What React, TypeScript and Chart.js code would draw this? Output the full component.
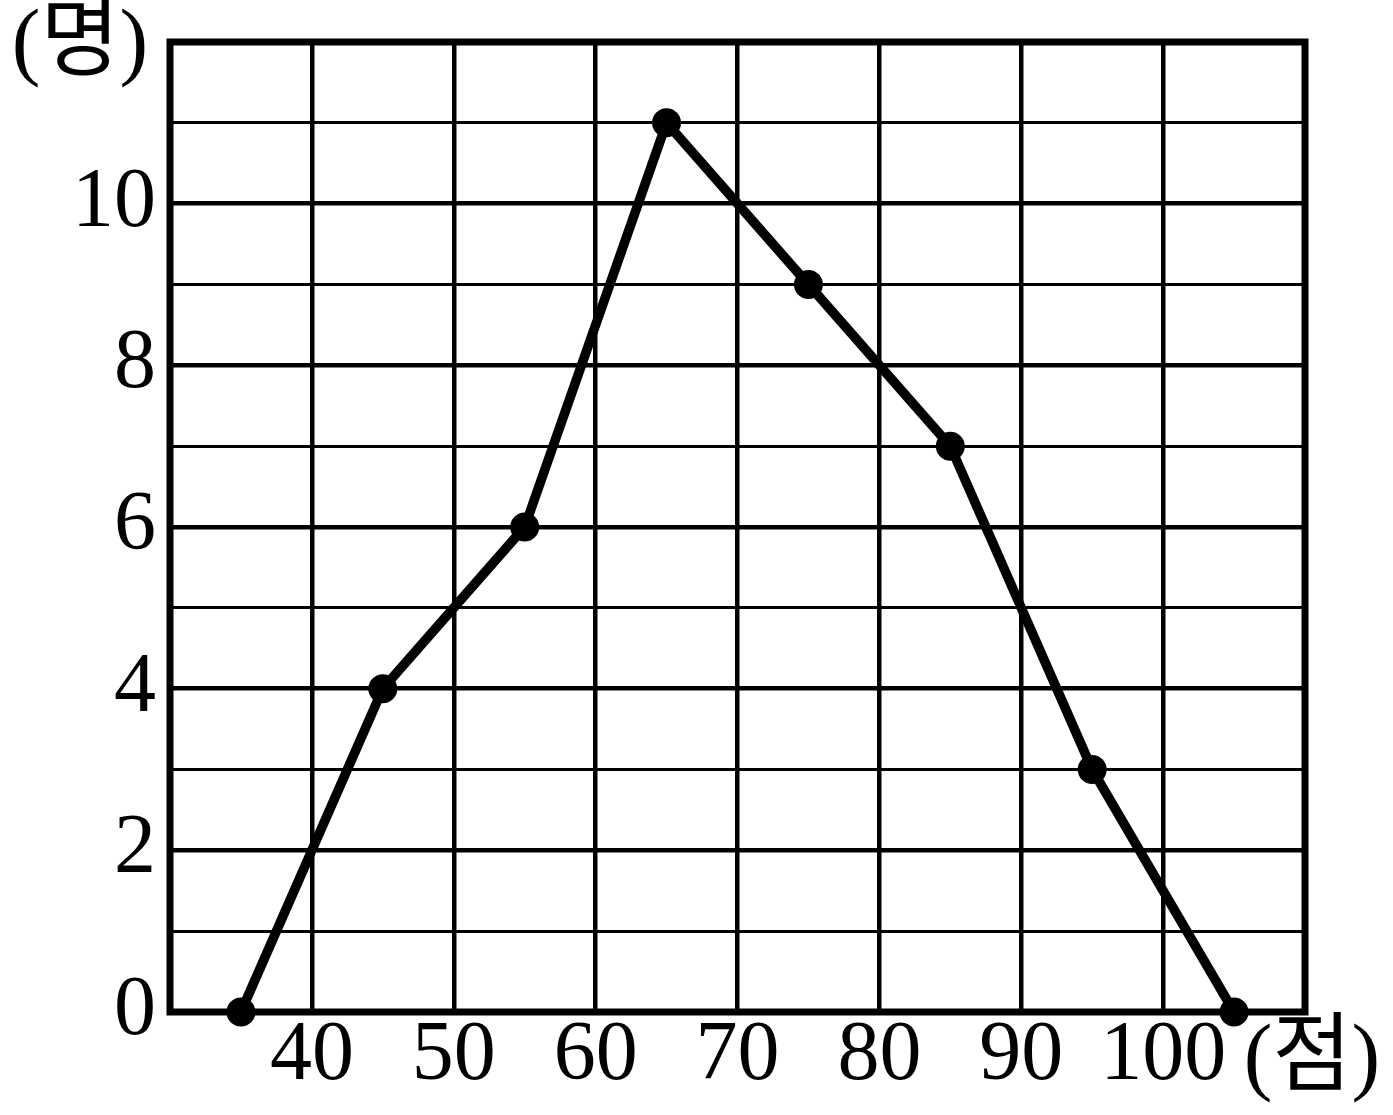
import React, { useEffect, useRef } from 'react';
import { Chart, registerables } from 'chart.js';

Chart.register(...registerables);

const scores = [35, 45, 55, 65, 75, 85, 95, 105];
const counts = [0, 4, 6, 11, 9, 7, 3, 0];
const xTickLabels = [40, 50, 60, 70, 80, 90, 100];
const yTickLabels = [0, 2, 4, 6, 8, 10];
const yUnit = '(명)';
const xUnit = '(점)';

const FONT_FAMILY = '"Liberation Serif", "Noto Sans CJK KR", serif';

const framePlugin = {
  id: 'frameAndUnits',
  beforeDatasetsDraw(chart: any) {
    const { ctx, chartArea } = chart;
    ctx.save();
    ctx.strokeStyle = '#000';
    ctx.lineWidth = 7;
    ctx.strokeRect(chartArea.left, chartArea.top, chartArea.right - chartArea.left, chartArea.bottom - chartArea.top);
    ctx.restore();
  },
  afterDraw(chart: any) {
    const { ctx } = chart;
    ctx.save();
    ctx.fillStyle = '#000';
    ctx.font = '86px ' + FONT_FAMILY;
    ctx.textBaseline = 'alphabetic';
    ctx.textAlign = 'center';
    ctx.fillText(yUnit, 80, 69);
    ctx.fillText(xUnit, 1312, 1084);
    ctx.restore();
  },
};

export default function App() {
  const ref = useRef<HTMLCanvasElement | null>(null);

  useEffect(() => {
    if (!ref.current) return;
    const chart = new Chart(ref.current, {
      type: 'line',
      data: {
        datasets: [
          {
            data: scores.map((s, i) => ({ x: s, y: counts[i] })),
            borderColor: '#000',
            backgroundColor: '#000',
            borderWidth: 9.5,
            pointRadius: 14.5,
            pointBorderWidth: 0,
            pointBackgroundColor: '#000',
            tension: 0,
            clip: false as any,
          },
        ],
      },
      options: {
        animation: false,
        responsive: false,
        devicePixelRatio: 1,
        layout: { padding: { top: 42, right: 88, left: 0, bottom: 0 } },
        plugins: { legend: { display: false }, tooltip: { enabled: false } },
        scales: {
          x: {
            type: 'linear',
            min: 30,
            max: 110,
            afterFit: (scale: any) => {
              scale.height = 103;
              scale.paddingLeft = 0;
              scale.paddingRight = 0;
            },
            afterBuildTicks: (scale: any) => {
              const vals = [30, ...xTickLabels, 110];
              scale.ticks = vals.map((v) => ({ value: v }));
            },
            border: { display: false },
            grid: { color: '#000', lineWidth: 4.5, drawTicks: false },
            ticks: {
              autoSkip: false,
              maxRotation: 0,
              padding: -5,
              color: '#000',
              font: { family: FONT_FAMILY, size: 84 },
              callback: (v: any) => (xTickLabels.includes(Number(v)) ? String(v) : ''),
            },
          },
          y: {
            type: 'linear',
            min: 0,
            max: 12,
            afterFit: (scale: any) => {
              scale.width = 170;
              scale.paddingTop = 0;
              scale.paddingBottom = 0;
            },
            afterBuildTicks: (scale: any) => {
              const vals: number[] = [];
              for (let v = 0; v <= 12; v++) vals.push(v);
              scale.ticks = vals.map((v) => ({ value: v }));
            },
            border: { display: false },
            grid: {
              color: '#000',
              drawTicks: false,
              lineWidth: (c: any) => (c.tick && c.tick.value % 2 === 0 ? 4.5 : 3),
            },
            ticks: {
              autoSkip: false,
              padding: 14,
              color: '#000',
              font: { family: FONT_FAMILY, size: 84 },
              callback: (v: any) => (yTickLabels.includes(Number(v)) ? String(v) : ''),
            },
          },
        },
      },
      plugins: [framePlugin],
    });
    return () => chart.destroy();
  }, []);

  return (
    <div style={{ position: 'fixed', left: 0, top: 0, width: 1393, height: 1115, background: '#fff' }}>
      <canvas ref={ref} width={1393} height={1115} style={{ display: 'block' }} />
    </div>
  );
}
